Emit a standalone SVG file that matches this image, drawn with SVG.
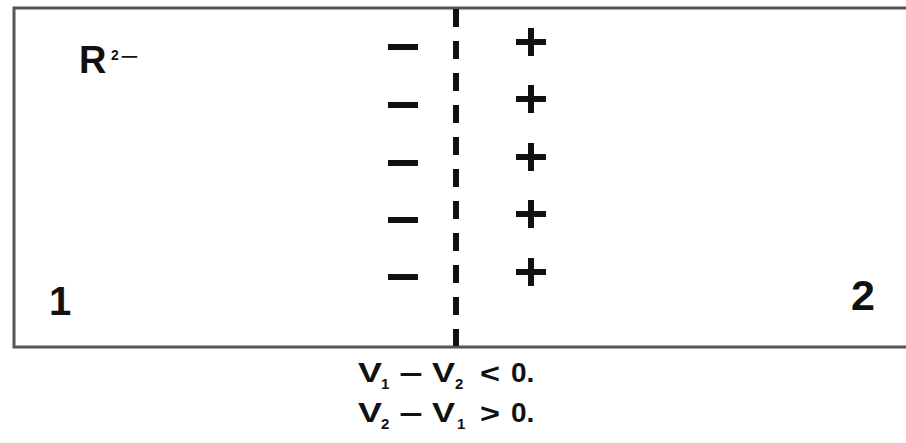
<svg xmlns="http://www.w3.org/2000/svg" width="906" height="443" viewBox="0 0 906 443">
<style>
.t{font-family:"Liberation Sans","DejaVu Sans",sans-serif;font-weight:bold;fill:#111}
.s{stroke:#111;stroke-width:6;stroke-linecap:butt}
.v{font-family:"Liberation Sans","DejaVu Sans",sans-serif;font-weight:bold;font-size:28px;fill:#111}
.b{font-family:"Liberation Sans","DejaVu Sans",sans-serif;font-weight:bold;font-size:15px;fill:#111}
</style>
<rect width="906" height="443" fill="#fff"/>
<g id="box">
<path d="M914 8 H14 V347 H914" fill="none" stroke="#555" stroke-width="3"/>
</g>
<g id="connectors">
<line x1="456" y1="9" x2="456" y2="346" stroke="#111" stroke-width="6" stroke-dasharray="18 14"/>
</g>
<g id="minus">
<line class="s" x1="388" y1="47" x2="418" y2="47"/>
<line class="s" x1="388" y1="105" x2="418" y2="105"/>
<line class="s" x1="388" y1="163" x2="418" y2="163"/>
<line class="s" x1="388" y1="220" x2="418" y2="220"/>
<line class="s" x1="388" y1="277" x2="418" y2="277"/>
</g>
<g id="plus">
<path class="s" d="M516 42 H546 M531 28 V56"/>
<path class="s" d="M516 99 H546 M531 85 V113"/>
<path class="s" d="M516 157 H546 M531 143 V171"/>
<path class="s" d="M516 214 H546 M531 200 V228"/>
<path class="s" d="M516 272 H546 M531 258 V286"/>
</g>
<g id="ion">
<text class="t" x="79" y="73" font-size="38">R</text>
<text class="t" x="111" y="60" font-size="14">2</text>
<text class="t" x="120" y="62" font-size="16" textLength="18" lengthAdjust="spacingAndGlyphs">−</text>
</g>
<g id="label1"><text class="t" x="49" y="315" font-size="40">1</text></g>
<g id="label2"><text class="t" x="851" y="310" font-size="43">2</text></g>
<g id="eq1">
<text class="v" x="358" y="382" textLength="24" lengthAdjust="spacingAndGlyphs">V</text>
<text class="b" x="381" y="389">1</text>
<text class="v" x="399" y="384" textLength="24" lengthAdjust="spacingAndGlyphs">−</text>
<text class="v" x="432" y="382" textLength="23" lengthAdjust="spacingAndGlyphs">V</text>
<text class="b" x="455" y="389">2</text>
<text class="v" x="480" y="383" textLength="20" lengthAdjust="spacingAndGlyphs">&lt;</text>
<text class="v" x="511" y="382">0.</text>
</g>
<g id="eq2">
<text class="v" x="358" y="422" textLength="24" lengthAdjust="spacingAndGlyphs">V</text>
<text class="b" x="381" y="429">2</text>
<text class="v" x="399" y="424" textLength="24" lengthAdjust="spacingAndGlyphs">−</text>
<text class="v" x="432" y="422" textLength="23" lengthAdjust="spacingAndGlyphs">V</text>
<text class="b" x="457" y="429">1</text>
<text class="v" x="480" y="423" textLength="20" lengthAdjust="spacingAndGlyphs">&gt;</text>
<text class="v" x="511" y="422">0.</text>
</g>
</svg>
